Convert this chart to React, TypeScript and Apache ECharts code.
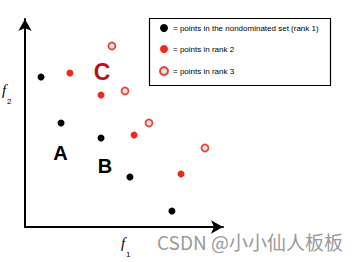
import React, { useEffect, useRef } from "react";
import * as echarts from "echarts";

const rank1: [number, number][] = [
  [0.81, 7.21], [1.82, 5.0], [3.84, 4.28], [5.3, 2.4], [7.42, 0.77],
];
const rank2: [number, number][] = [
  [2.27, 7.4], [3.84, 6.35], [5.51, 4.42], [7.88, 2.55],
];
const rank3: [number, number][] = [
  [4.39, 8.7], [5.05, 6.54], [6.26, 5.0], [9.09, 3.8],
];
const pointLabels: { name: string; value: [number, number]; color: string; size: number }[] = [
  { name: "A", value: [1.79, 3.58], color: "#000000", size: 20 },
  { name: "B", value: [4.04, 2.91], color: "#000000", size: 20 },
  { name: "C", value: [3.89, 7.44], color: "#b3141b", size: 23 },
];
const legendNames = [
  "= points in the nondominated set (rank 1)",
  "= points in rank 2",
  "= points in rank 3",
];

export default function App() {
  const ref = useRef<HTMLDivElement>(null);
  useEffect(() => {
    if (!ref.current) return;
    const chart = echarts.init(ref.current, null, { renderer: "svg" });
    const axisCommon = {
      type: "value" as const,
      min: 0,
      max: 10,
      axisTick: { show: false },
      axisLabel: { show: false },
      splitLine: { show: false },
      axisLine: {
        show: true,
        onZero: false,
        symbol: ["none", "arrow"],
        symbolSize: [10, 12],
        lineStyle: { color: "#000", width: 2 },
      },
    };
    const fStyle = {
      fontStyle: "italic",
      fontSize: 15,
      fontFamily: "Liberation Serif, serif",
      fill: "#000000",
    };
    const subStyle = {
      fontSize: 8,
      fontFamily: "Liberation Sans, sans-serif",
      fill: "#000000",
    };
    chart.setOption({
      animation: false,
      backgroundColor: "#ffffff",
      grid: { left: 25, top: 19, width: 198, height: 208 },
      xAxis: axisCommon,
      yAxis: axisCommon,
      legend: {
        left: 159,
        top: 24,
        orient: "vertical",
        itemWidth: 8,
        itemHeight: 8,
        itemGap: 13,
        padding: 0,
        textStyle: {
          fontFamily: "Liberation Sans Narrow, Liberation Sans, sans-serif",
          fontSize: 8,
          color: "#000",
        },
        data: legendNames.map((n) => ({ name: n, icon: "circle" })),
      },
      graphic: [
        {
          type: "rect",
          shape: { x: 149.5, y: 18.5, width: 181, height: 67 },
          style: { fill: "none", stroke: "#000", lineWidth: 1.2 },
          z: 10,
        },
        { type: "text", left: 2, top: 82, z: 20, style: { text: "f", ...fStyle } },
        { type: "text", left: 7, top: 97, z: 20, style: { text: "2", ...subStyle } },
        { type: "text", left: 121, top: 235, z: 20, style: { text: "f", ...fStyle } },
        { type: "text", left: 126, top: 250, z: 20, style: { text: "1", ...subStyle } },
        {
          type: "text",
          left: 157,
          top: 232,
          z: 20,
          style: {
            text: "CSDN @小小仙人板板",
            fontSize: 19,
            fontFamily: "Noto Sans CJK SC, Noto Sans, sans-serif",
            fill: "#9a9a9a",
          },
        },
      ],
      series: [
        {
          name: legendNames[0],
          type: "scatter",
          data: rank1,
          symbolSize: 7,
          itemStyle: { color: "#000000", opacity: 1 },
        },
        {
          name: legendNames[1],
          type: "scatter",
          data: rank2,
          symbolSize: 7,
          itemStyle: { color: "#ee2a1e", opacity: 1 },
        },
        {
          name: legendNames[2],
          type: "scatter",
          data: rank3,
          symbolSize: 7,
          itemStyle: { color: "#e9e4e4", borderColor: "#e8453a", borderWidth: 1.8, opacity: 1 },
        },
        {
          type: "scatter",
          data: pointLabels.map((p) => ({
            value: p.value,
            name: p.name,
            label: { color: p.color, fontSize: p.size },
          })),
          symbolSize: 0,
          silent: true,
          itemStyle: { opacity: 1 },
          label: {
            show: true,
            position: "inside",
            formatter: (p: any) => p.name,
            fontWeight: "bold",
            fontFamily: "Liberation Sans, Arial, sans-serif",
          },
        },
      ],
    });
    return () => chart.dispose();
  }, []);
  return (
    <div
      ref={ref}
      style={{ position: "fixed", left: 0, top: 0, width: 362, height: 262 }}
    />
  );
}
